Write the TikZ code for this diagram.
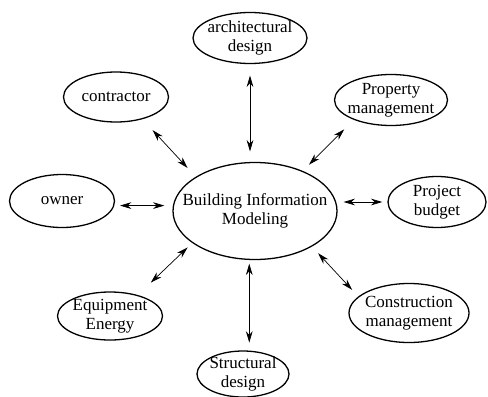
\documentclass[tikz,border=0pt]{standalone}
\usepackage{fontspec}
\setmainfont{Liberation Serif}
\usetikzlibrary{arrows.meta,shapes.geometric}

\tikzset{
  bubble/.style={ellipse, draw=black, line width=1.1pt, fill=white, align=center, inner xsep=-6mm, inner ysep=-3mm},
  link/.style={{Stealth[length=3.4mm,width=2mm]}-{Stealth[length=3.4mm,width=2mm]}, line width=0.6pt}
}

\begin{document}
\begin{tikzpicture}[x=0.03cm, y=-0.03cm, font=\fontsize{14.5}{16}\selectfont]
  \useasboundingbox (0,0) rectangle (488,396);

  % hub
  \node[bubble, minimum width=4.92cm, minimum height=2.91cm] (bim) at (255,211) {Building Information\\Modeling};

  % parties around the model
  \node[bubble, minimum width=3.42cm, minimum height=1.53cm] (arch) at (250,38) {architectural\\design};
  \node[bubble, minimum width=3.15cm, minimum height=1.50cm] (contr) at (116,97) {contractor};
  \node[bubble, minimum width=3.39cm, minimum height=1.53cm] (prop) at (391,100) {Property\\management};
  \node[bubble, minimum width=3.15cm, minimum height=1.59cm] (owner) at (62,201) {owner};
  \node[bubble, minimum width=2.94cm, minimum height=1.53cm] (budget) at (437,202) {Project\\budget};
  \node[bubble, minimum width=3.15cm, minimum height=1.44cm] (equip) at (110,316) {Equipment\\Energy};
  \node[bubble, minimum width=3.60cm, minimum height=1.77cm] (constr) at (409,313) {Construction\\management};
  \node[bubble, minimum width=2.76cm, minimum height=1.38cm] (struct) at (243,374) {Structural\\design};

  % two-way links
  \draw[link, shorten <=9.8pt, shorten >=8.9pt] (arch.south) -- (arch.south |- bim.north);
  \draw[link, shorten <=6.8pt, shorten >=3pt] (struct.75) -- (struct.75 |- bim.south);
  \draw[link, shorten <=4.8pt, shorten >=6.8pt] (owner.-5) -- (owner.-5 -| bim.west);
  \draw[link, shorten <=4.3pt, shorten >=5.1pt] (budget.west) -- (budget.west -| bim.east);
  \draw[link, shorten <=12.7pt, shorten >=10.2pt] (contr.-40) -- (bim.150);
  \draw[link, shorten <=7.7pt, shorten >=7.7pt] (constr.162) -- (bim.-32);
  \draw[link, shorten <=11.5pt, shorten >=7.5pt] (prop.208) -- (bim.40);
  \draw[link, shorten <=15.3pt, shorten >=5.5pt] (equip.37) -- (bim.207);
\end{tikzpicture}
\end{document}
